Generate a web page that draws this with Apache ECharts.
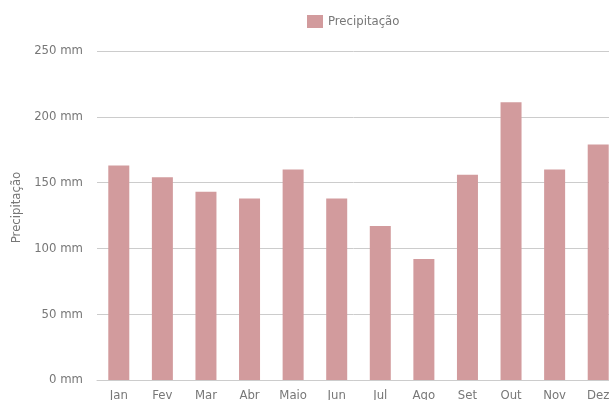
<!DOCTYPE html>
<html>
<head>
<meta charset="utf-8">
<script src="https://cdn.jsdelivr.net/npm/echarts@6/dist/echarts.min.js"></script>
<style>
  html, body { margin: 0; padding: 0; background: #fff; }
  #chart { width: 609px; height: 400px; }
</style>
</head>
<body>
<div id="chart"></div>
<script>
// Monthly precipitation (mm)
const months = ['Jan', 'Fev', 'Mar', 'Abr', 'Maio', 'Jun', 'Jul', 'Ago', 'Set', 'Out', 'Nov', 'Dez'];
const precipitation = [163, 154, 143, 138, 160, 138, 117, 92, 156, 211, 160, 179];
const seriesName = 'Precipitação';
const axisName = 'Precipitação';

const font = '"DejaVu Sans Condensed", "Liberation Sans Narrow", Roboto, sans-serif';
const chart = echarts.init(document.getElementById('chart'), null, { renderer: 'canvas' });

chart.setOption({
  animation: false,
  textStyle: { fontFamily: font },
  legend: {
    left: 307,
    top: 15,
    padding: 0,
    icon: 'rect',
    itemWidth: 16,
    itemHeight: 13,
    itemGap: 6,
    textStyle: { color: '#777', fontSize: 13, fontFamily: font },
    data: [seriesName]
  },
  grid: {
    left: 97,
    top: 51,
    right: -11,
    bottom: 20,
    containLabel: false,
    outerBoundsMode: 'none'
  },
  xAxis: {
    type: 'category',
    data: months,
    axisLine: { show: true, lineStyle: { color: '#ccc', width: 1 } },
    axisTick: { show: false },
    axisLabel: { color: '#777', fontSize: 13, margin: 9, fontFamily: font }
  },
  yAxis: {
    type: 'value',
    min: 0,
    max: 250,
    interval: 50,
    name: axisName,
    nameLocation: 'middle',
    nameGap: 70,
    nameRotate: 90,
    nameTextStyle: { color: '#777', fontSize: 13, fontFamily: font, padding: [0, 0, 0, 16] },
    axisLine: { show: false },
    axisTick: { show: false },
    axisLabel: { color: '#777', fontSize: 13, margin: 14, formatter: '{value} mm', fontFamily: font },
    splitLine: { lineStyle: { color: '#ccc', width: 1 } }
  },
  series: [{
    name: seriesName,
    type: 'bar',
    data: precipitation,
    barWidth: 21,
    itemStyle: { color: '#d29b9d' }
  }]
});
</script>
</body>
</html>
